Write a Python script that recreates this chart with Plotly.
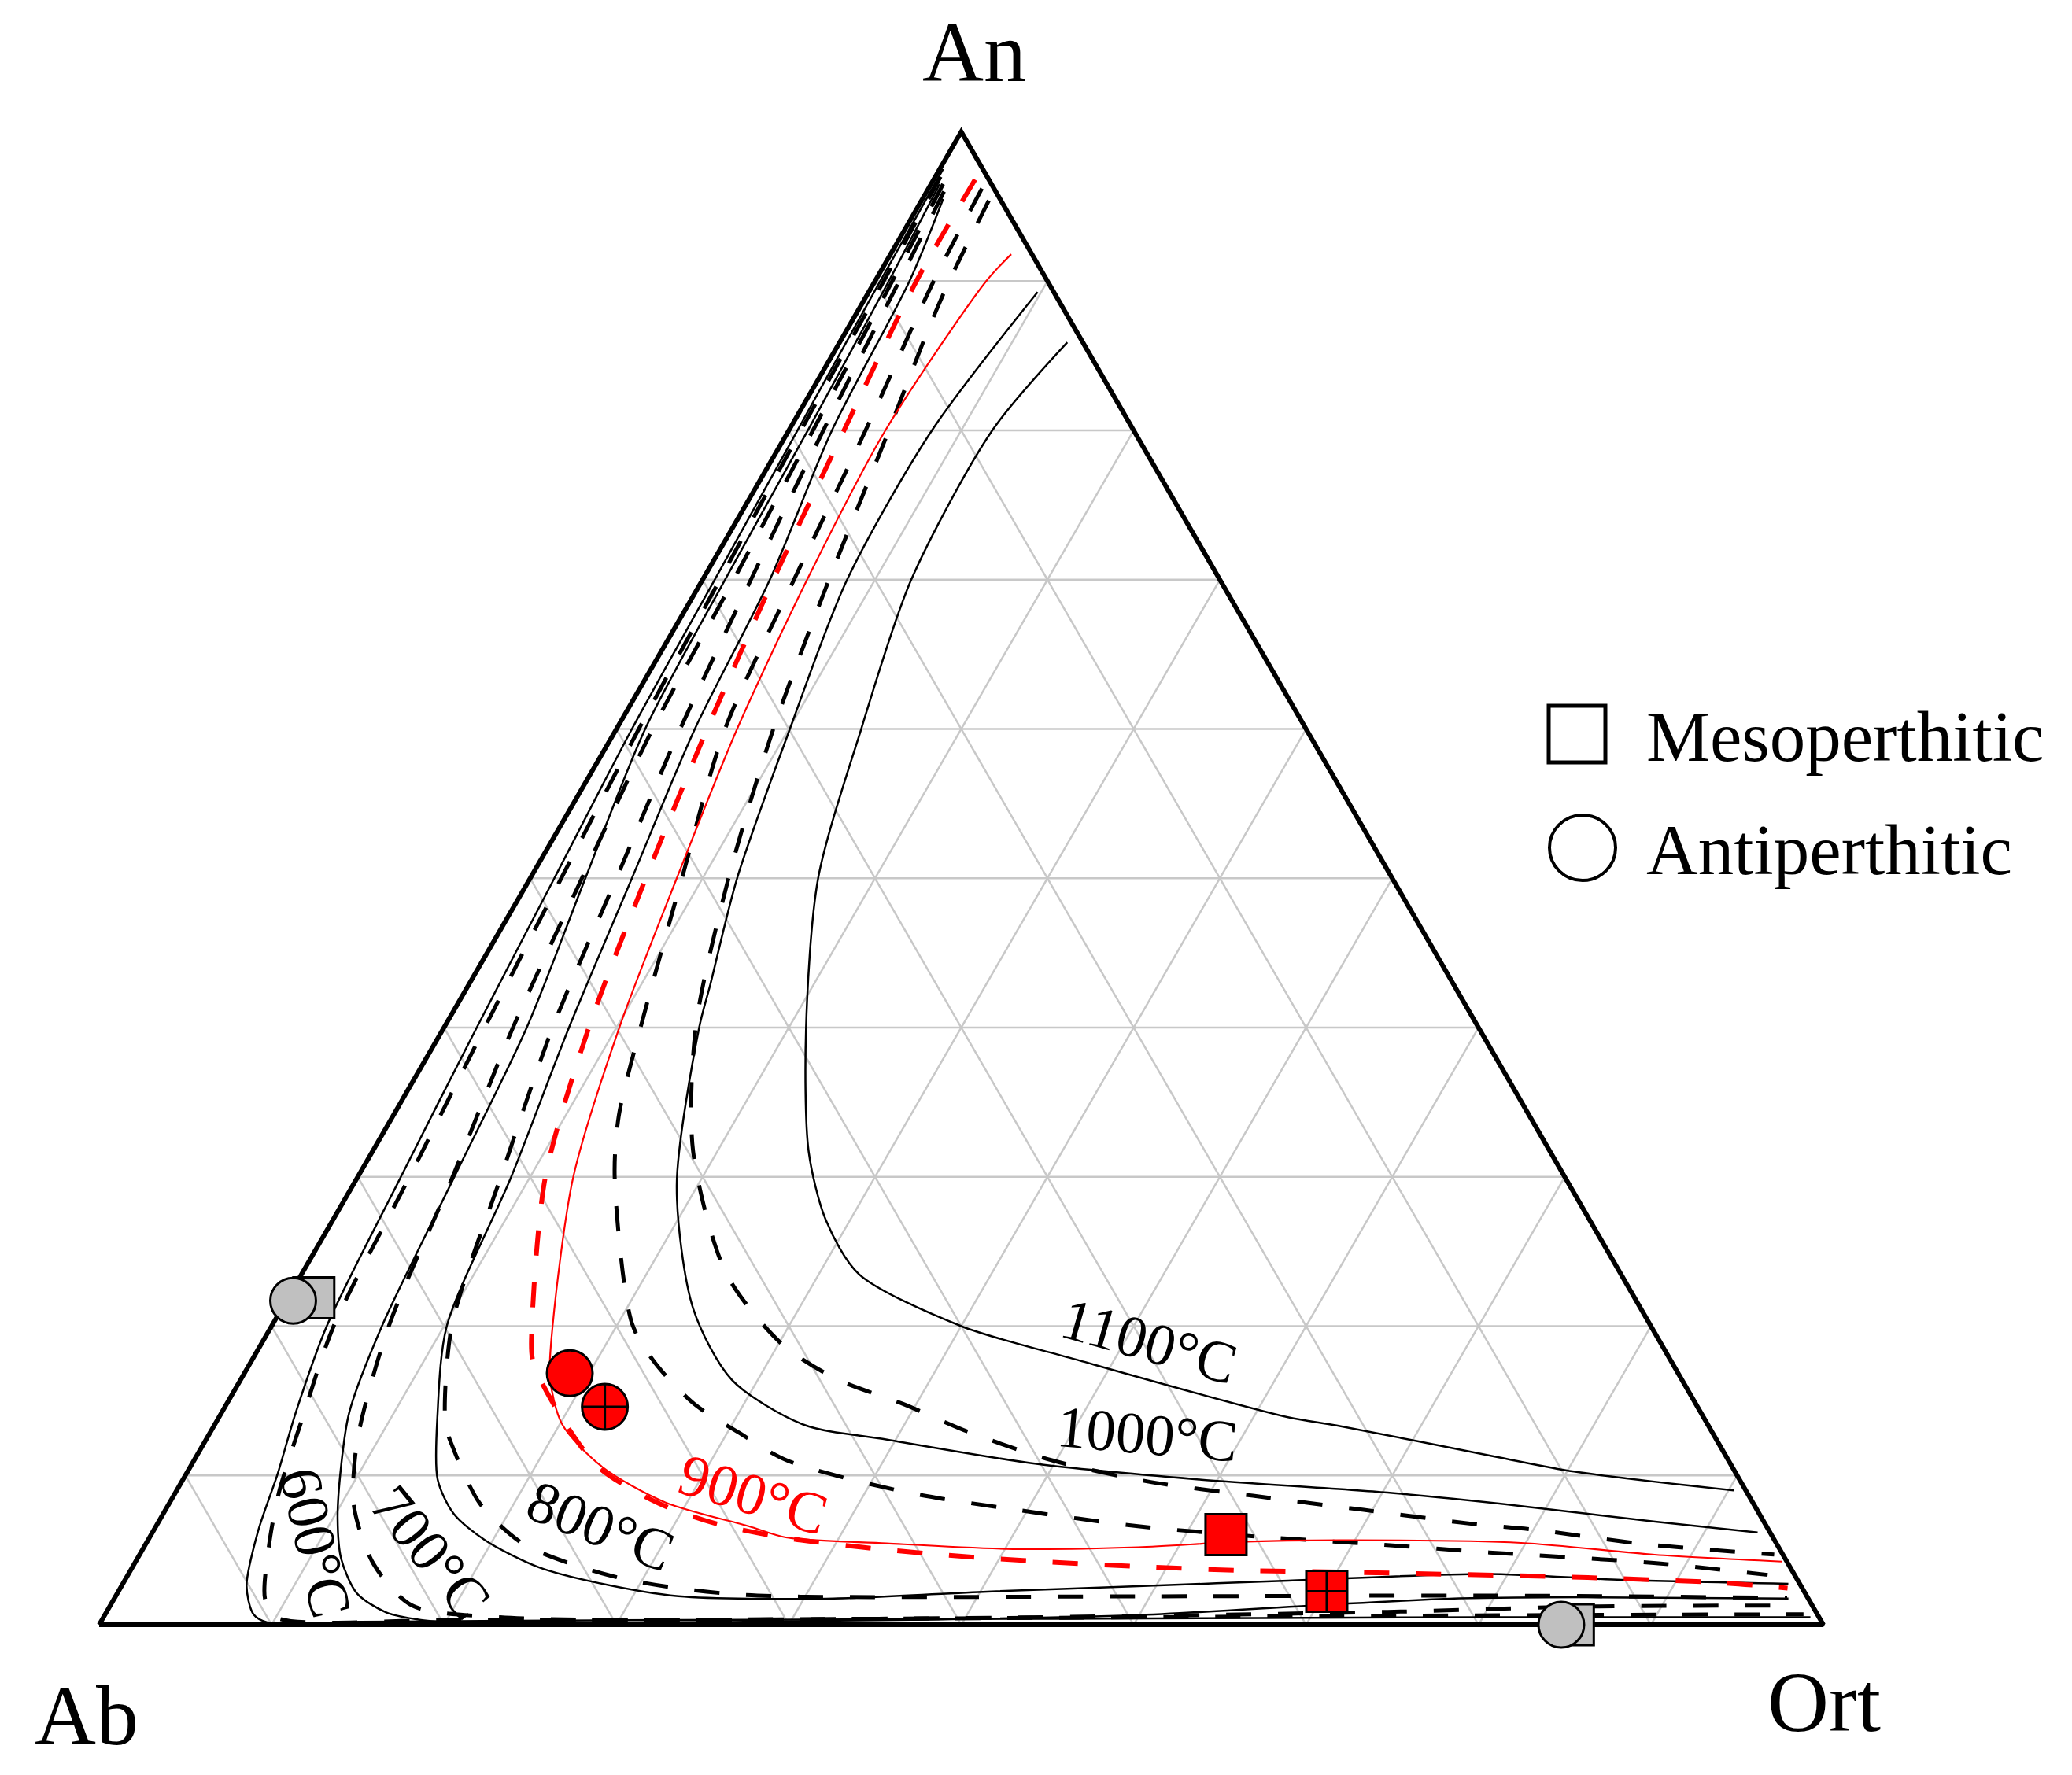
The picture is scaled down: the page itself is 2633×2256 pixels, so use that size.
import numpy as np
import plotly.graph_objects as go

# ---------------- data (ternary fractions: An, Or ; Ab = 1 - An - Or) ----------------
GRID_TICKS = [0.1, 0.2, 0.3, 0.4, 0.5, 0.6, 0.7, 0.8, 0.9]

T600_SOLID_AN = [0.975, 0.90, 0.80, 0.70, 0.60, 0.50, 0.40, 0.30, 0.20, 0.142, 0.101, 0.062, 0.026, 0.007, 0.0015, 0.002, 0.003, 0.004, 0.005, 0.005]
T600_SOLID_OR = [0.002, 0.003, 0.005, 0.007, 0.009, 0.014, 0.019, 0.025, 0.032, 0.043, 0.053, 0.061, 0.0725, 0.086, 0.097, 0.15, 0.30, 0.55, 0.80, 0.99]
T600_DASH_AN = [0.97, 0.90, 0.80, 0.70, 0.60, 0.50, 0.40, 0.30, 0.20, 0.137, 0.0885, 0.053, 0.0174, 0.005, 0.003, 0.004, 0.006, 0.007]
T600_DASH_OR = [0.003, 0.005, 0.007, 0.010, 0.013, 0.018, 0.0236, 0.030, 0.036, 0.049, 0.060, 0.072, 0.0875, 0.10, 0.20, 0.45, 0.75, 0.985]

T700_SOLID_AN = [0.965, 0.90, 0.80, 0.70, 0.60, 0.50, 0.40, 0.30, 0.20, 0.142, 0.106, 0.071, 0.044, 0.021, 0.0084, 0.0032, 0.0015, 0.003, 0.0063, 0.0132, 0.0175, 0.0184, 0.0175]
T700_SOLID_OR = [0.005, 0.008, 0.011, 0.013, 0.0167, 0.032, 0.048, 0.056, 0.064, 0.074, 0.0873, 0.1028, 0.1184, 0.139, 0.162, 0.185, 0.207, 0.45, 0.597, 0.702, 0.777, 0.854, 0.971]
T700_DASH_AN = [0.965, 0.90, 0.80, 0.70, 0.60, 0.50, 0.40, 0.30, 0.20, 0.1235, 0.0795, 0.0405, 0.0129, 0.005, 0.004, 0.0086, 0.0122, 0.0128]
T700_DASH_OR = [0.007, 0.010, 0.014, 0.018, 0.021, 0.030, 0.040, 0.055, 0.068, 0.088, 0.108, 0.139, 0.175, 0.23, 0.45, 0.743, 0.857, 0.97]

T800_SOLID_AN = [0.955, 0.90, 0.80, 0.70, 0.60, 0.50, 0.40, 0.30, 0.20, 0.142, 0.0974, 0.0743, 0.0564, 0.0387, 0.028, 0.0191, 0.0174, 0.0222, 0.0258, 0.0295, 0.034, 0.030, 0.0274]
T800_SOLID_OR = [0.012, 0.020, 0.025, 0.039, 0.0455, 0.059, 0.0725, 0.089, 0.1016, 0.1253, 0.1476, 0.1685, 0.1959, 0.2352, 0.2754, 0.3264, 0.413, 0.504, 0.5896, 0.675, 0.788, 0.868, 0.966]
T800_DASH_AN = [0.96, 0.90, 0.80, 0.70, 0.60, 0.50, 0.40, 0.30, 0.20, 0.1348, 0.1206, 0.0814, 0.0547, 0.0405, 0.030, 0.0237, 0.020, 0.0187, 0.019, 0.0195, 0.018]
T800_DASH_OR = [0.010, 0.014, 0.020, 0.028, 0.037, 0.050, 0.063, 0.083, 0.1045, 0.1334, 0.1442, 0.180, 0.2178, 0.254, 0.292, 0.3287, 0.3633, 0.401, 0.60, 0.80, 0.97]

T900_SOLID_AN = [0.918, 0.90, 0.80, 0.70, 0.60, 0.50, 0.40, 0.30, 0.20, 0.165, 0.1343, 0.1058, 0.082, 0.066, 0.0585, 0.0545, 0.0507, 0.0519, 0.0555, 0.0566, 0.0548, 0.0469, 0.0423]
T900_SOLID_OR = [0.070, 0.0645, 0.056, 0.0606, 0.070, 0.085, 0.1017, 0.125, 0.163, 0.179, 0.2014, 0.2388, 0.2873, 0.3437, 0.369, 0.4294, 0.5046, 0.5766, 0.633, 0.691, 0.7973, 0.8787, 0.9547]
T900_DASH_AN = [0.968, 0.90, 0.80, 0.70, 0.60, 0.50, 0.40, 0.30, 0.20, 0.177, 0.1437, 0.1058, 0.0814, 0.0672, 0.058, 0.0519, 0.0471, 0.0424, 0.039, 0.0364, 0.0353, 0.0316, 0.0281, 0.0245]
T900_DASH_OR = [0.024, 0.024, 0.032, 0.041, 0.0526, 0.067, 0.084, 0.1088, 0.151, 0.163, 0.1938, 0.2365, 0.2837, 0.3256, 0.370, 0.4166, 0.4625, 0.5233, 0.583, 0.6428, 0.7014, 0.8476, 0.9268, 0.967]

DASH_A_AN = [0.954, 0.90, 0.868, 0.80, 0.70, 0.60, 0.50, 0.40, 0.317, 0.235, 0.188, 0.1645, 0.148, 0.129, 0.110, 0.096, 0.0864, 0.0769, 0.0674, 0.0637, 0.0538, 0.047]
DASH_A_OR = [0.039, 0.043, 0.047, 0.058, 0.0733, 0.091, 0.115, 0.146, 0.186, 0.2463, 0.302, 0.3455, 0.392, 0.440, 0.498, 0.560, 0.626, 0.695, 0.764, 0.800, 0.871, 0.948]
DASH_B_AN = [0.962, 0.90, 0.80, 0.70, 0.60, 0.50, 0.40, 0.3407, 0.30, 0.202, 0.176, 0.148, 0.129, 0.110, 0.0886, 0.0769, 0.066, 0.059, 0.0542, 0.0484, 0.0414, 0.0334]
DASH_B_OR = [0.031, 0.034, 0.0445, 0.053, 0.063, 0.088, 0.114, 0.131, 0.149, 0.208, 0.234, 0.271, 0.306, 0.344, 0.4244, 0.494, 0.5695, 0.643, 0.7095, 0.782, 0.881, 0.951]

T1000_SOLID_AN = [0.8926, 0.80, 0.70, 0.60, 0.50, 0.429, 0.40, 0.294, 0.2117, 0.164, 0.134, 0.124, 0.1076, 0.0974, 0.0885, 0.0795, 0.069, 0.0618]
T1000_SOLID_OR = [0.098, 0.083, 0.0838, 0.1006, 0.120, 0.140, 0.148, 0.188, 0.2387, 0.285, 0.3416, 0.395, 0.4907, 0.588, 0.703, 0.785, 0.868, 0.931]
T1100_SOLID_AN = [0.859, 0.80, 0.70, 0.60, 0.50, 0.40, 0.317, 0.271, 0.235, 0.20, 0.177, 0.139, 0.1335, 0.1127, 0.1026, 0.09]
T1100_SOLID_OR = [0.132, 0.118, 0.121, 0.142, 0.167, 0.210, 0.253, 0.286, 0.323, 0.400, 0.480, 0.620, 0.651, 0.753, 0.804, 0.903]

# samples
MESO_GREY_AN = [0.219, 0.0]
MESO_GREY_OR = [0.015, 0.855]
ANTI_GREY_AN = [0.217, 0.0]
ANTI_GREY_OR = [0.004, 0.848]
ANTI_RED_AN = [0.1685]
ANTI_RED_OR = [0.1887]
ANTI_RED_X_AN = [0.146]
ANTI_RED_X_OR = [0.2203]
MESO_RED_AN = [0.0603]
MESO_RED_OR = [0.6234]
MESO_RED_X_AN = [0.0224]
MESO_RED_X_OR = [0.7008]

TEMP_LABELS = ["600°C", "700°C", "800°C", "900°C", "1000°C", "1100°C"]
VERTEX_LABELS = ["An", "Ab", "Ort"]
LEGEND_LABELS = ["Mesoperthitic", "Antiperthitic"]

# ---------------- helpers ----------------
H = np.sqrt(3) / 2


def tern(an, orr):
    an = np.asarray(an, dtype=float)
    orr = np.asarray(orr, dtype=float)
    return orr + an / 2.0, an * H


FONT = "Liberation Serif"
fig = go.Figure()

# grid
gx, gy = [], []
for k in GRID_TICKS:
    for an_pair, or_pair in (([k, k], [0, 1 - k]), ([0, 1 - k], [k, k]), ([0, 1 - k], [1 - k, 0])):
        x, y = tern(an_pair, or_pair)
        gx += list(x) + [None]
        gy += list(y) + [None]
fig.add_trace(go.Scatter(x=gx, y=gy, mode="lines", line=dict(color="#c8c8c8", width=2.5),
                         hoverinfo="skip"))


def curve(an, orr, color, width, dash):
    x, y = tern(an, orr)
    fig.add_trace(go.Scatter(x=x, y=y, mode="lines",
                             line=dict(color=color, width=width, dash=dash, shape="spline", smoothing=0.8),
                             hoverinfo="skip"))


DASH = "32px,34px"
curve(T600_SOLID_AN, T600_SOLID_OR, "black", 2.5, "solid")
curve(T600_DASH_AN, T600_DASH_OR, "black", 5, DASH)
curve(T700_SOLID_AN, T700_SOLID_OR, "black", 2.5, "solid")
curve(T700_DASH_AN, T700_DASH_OR, "black", 5, DASH)
curve(T800_SOLID_AN, T800_SOLID_OR, "black", 2.5, "solid")
curve(T800_DASH_AN, T800_DASH_OR, "black", 5, DASH)
curve(DASH_A_AN, DASH_A_OR, "black", 5, DASH)
curve(DASH_B_AN, DASH_B_OR, "black", 5, DASH)
curve(T1000_SOLID_AN, T1000_SOLID_OR, "black", 2.5, "solid")
curve(T1100_SOLID_AN, T1100_SOLID_OR, "black", 2.5, "solid")
curve(T900_SOLID_AN, T900_SOLID_OR, "#ff0000", 2.2, "solid")
curve(T900_DASH_AN, T900_DASH_OR, "#ff0000", 6, DASH)

# triangle outline
tx, ty = tern([0, 0, 1, 0], [0, 1, 0, 0])
fig.add_trace(go.Scatter(x=tx, y=ty, mode="lines", line=dict(color="black", width=6),
                         hoverinfo="skip"))


def pts(an, orr, symbol, size, fill):
    x, y = tern(an, orr)
    fig.add_trace(go.Scatter(x=x, y=y, mode="markers",
                             marker=dict(symbol=symbol, size=size, color=fill,
                                         line=dict(color="black", width=3)),
                             hoverinfo="skip"))


pts(MESO_GREY_AN, MESO_GREY_OR, "square", 52, "#c0c0c0")
pts(ANTI_GREY_AN, ANTI_GREY_OR, "circle", 58, "#c0c0c0")
pts(ANTI_RED_AN, ANTI_RED_OR, "circle", 58, "#ff0000")
pts(ANTI_RED_X_AN, ANTI_RED_X_OR, "circle-cross", 58, "#ff0000")
pts(MESO_RED_AN, MESO_RED_OR, "square", 52, "#ff0000")
pts(MESO_RED_X_AN, MESO_RED_X_OR, "square-cross", 52, "#ff0000")

# temperature labels (positions given as ternary An/Or, angle)
label_pos = [(0.0548, 0.0985, 77), (0.0485, 0.168, 51), (0.066, 0.258, 22),
             (0.0874, 0.336, 17), (0.128, 0.544, 5), (0.190, 0.514, 16)]
for text, (an, orr, ang) in zip(TEMP_LABELS, label_pos):
    x, y = tern([an], [orr])
    fig.add_annotation(x=float(x[0]), y=float(y[0]), xref="x", yref="y", text=text,
                       showarrow=False, textangle=ang,
                       font=dict(family=FONT, size=75,
                                 color="#ff0000" if text.startswith("900") else "black"))

# page geometry (browser body has an 8 px margin)
PAGE_W, PAGE_H = 2633, 2256
OFF = 8
W, HT = PAGE_W - 2 * OFF, PAGE_H - 2 * OFF


def paper(px, py):
    return (px - OFF) / W, 1 - (py - OFF) / HT


# vertex labels
for text, (px, py) in zip(VERTEX_LABELS, [(1238, 66), (110, 2180), (2318, 2163)]):
    xp, yp = paper(px, py)
    fig.add_annotation(x=xp, y=yp, xref="paper", yref="paper", text=text,
                       showarrow=False, xanchor="center", yanchor="middle",
                       font=dict(family=FONT, size=108, color="black"))

# legend (drawn manually to match large symbols)
ax0, ay0 = paper(1968, 969)
ax1, ay1 = paper(2040, 897)
fig.add_shape(type="rect", xref="paper", yref="paper", x0=ax0, x1=ax1, y0=ay0, y1=ay1,
              line=dict(color="black", width=5), fillcolor="white")
cx0, cy0 = paper(1969, 1119)
cx1, cy1 = paper(2053, 1036)
fig.add_shape(type="circle", xref="paper", yref="paper", x0=cx0, x1=cx1, y0=cy0, y1=cy1,
              line=dict(color="black", width=4), fillcolor="white")
for text, py in zip(LEGEND_LABELS, [936, 1080]):
    xp, yp = paper(2090, py)
    fig.add_annotation(x=xp, y=yp, xref="paper", yref="paper", text=text,
                       showarrow=False, xanchor="left", yanchor="middle",
                       font=dict(family=FONT, size=91, color="black"))

S = 2191.0
x0 = -(126 - OFF) / S
y0 = -(HT - (2065 - OFF)) / S
fig.update_layout(
    width=W, height=HT, autosize=False,
    margin=dict(l=0, r=0, t=0, b=0),
    paper_bgcolor="white", plot_bgcolor="white", showlegend=False,
    xaxis=dict(range=[x0, x0 + W / S], visible=False, showgrid=False, zeroline=False, fixedrange=True),
    yaxis=dict(range=[y0, y0 + HT / S], visible=False, showgrid=False, zeroline=False, fixedrange=True),
)

fig.write_html("out.html")
